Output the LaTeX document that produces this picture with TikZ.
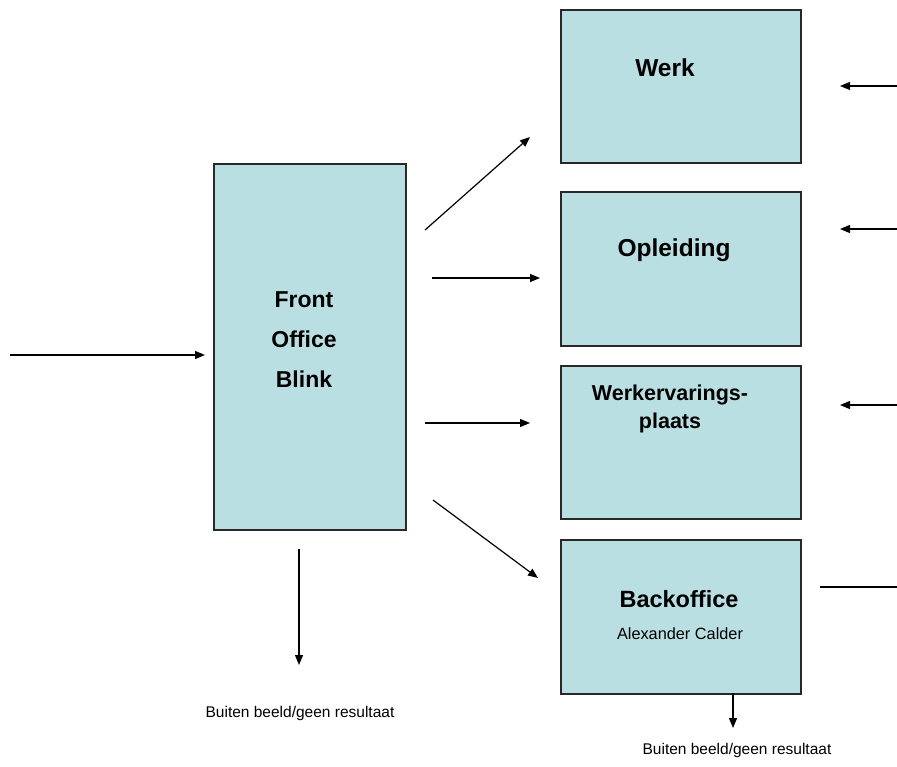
\documentclass[tikz,border=0pt]{standalone}
\usepackage{fontspec}
\setmainfont{Liberation Sans}
\usetikzlibrary{arrows.meta}
\definecolor{boxfill}{RGB}{186,223,226}
\definecolor{boxline}{RGB}{40,40,40}
\begin{document}
\begin{tikzpicture}[x=1pt,y=-1pt,
  box/.style={draw=boxline, line width=1.6pt, fill=boxfill, inner sep=0pt, anchor=north west, minimum width=240pt},
  title/.style={font=\fontsize{23.5}{28}\selectfont\bfseries, inner sep=0pt, align=center},
  small/.style={font=\fontsize{15.5}{18}\selectfont, inner sep=0pt},
  conn/.style={line width=1.2pt, -{Triangle[length=10pt,width=8pt]}},
  plain/.style={line width=1.2pt}]
\useasboundingbox (0,0) rectangle (897,767);
% boxes
\node[box, minimum width=192pt, minimum height=366pt] (front) at (213,163) {};
\node[box, minimum height=153pt] (werk) at (560,9) {};
\node[box, minimum height=154pt] (opl) at (560,191) {};
\node[box, minimum height=153pt] (wvp) at (560,365) {};
\node[box, minimum height=154pt] (back) at (560,539) {};
% texts
\node[title, font=\fontsize{23}{40}\selectfont\bfseries] (tfront) at (304,340) {Front\\Office\\Blink};
\node[title, font=\fontsize{24.5}{28}\selectfont\bfseries] (twerk) at (665,68) {Werk};
\node[title, font=\fontsize{24.5}{28}\selectfont\bfseries] (topl) at (674,250) {Opleiding};
\node[title, font=\fontsize{21.5}{28}\selectfont\bfseries] (twvp) at (670,409) {Werkervarings-\\plaats};
\node[title] (tback) at (679,599) {Backoffice};
\node[small, font=\fontsize{16.3}{18}\selectfont] (tcalder) at (680,634) {Alexander Calder};
\node[small] (tout1) at (300,713) {Buiten beeld/geen resultaat};
\node[small] (tout2) at (737,750) {Buiten beeld/geen resultaat};
% free ends
\coordinate (in0) at (10,355);
\coordinate (in1) at (205,355);
\coordinate (a1s) at (425,230); \coordinate (a1e) at (530,137);
\coordinate (a2s) at (432,278); \coordinate (a2e) at (540,278);
\coordinate (a3s) at (425,423); \coordinate (a3e) at (530,423);
\coordinate (a4s) at (433,500); \coordinate (a4e) at (538,578);
\coordinate (r1s) at (897,86);  \coordinate (r1e) at (840,86);
\coordinate (r2s) at (897,229); \coordinate (r2e) at (840,229);
\coordinate (r3s) at (897,405); \coordinate (r3e) at (840,405);
\coordinate (r4s) at (820,587); \coordinate (r4e) at (897,587);
\coordinate (d1s) at (299,549); \coordinate (d1e) at (299,665);
\coordinate (d2s) at (733,693); \coordinate (d2e) at (733,728);
% connectors
\draw[conn] (in0) -- (in1);
\draw[conn] (a1s) -- (a1e);
\draw[conn] (a2s) -- (a2e);
\draw[conn] (a3s) -- (a3e);
\draw[conn] (a4s) -- (a4e);
\draw[conn] (r1s) -- (r1e);
\draw[conn] (r2s) -- (r2e);
\draw[conn] (r3s) -- (r3e);
\draw[plain] (r4s) -- (r4e);
\draw[conn] (d1s) -- (d1e);
\draw[conn] (d2s) -- (d2e);
\end{tikzpicture}
\end{document}
